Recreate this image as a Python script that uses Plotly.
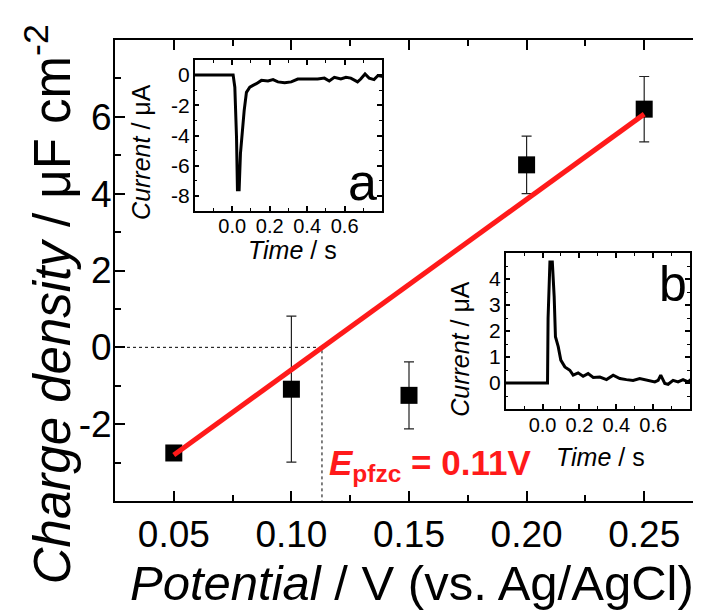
import plotly.graph_objects as go

# ---------------- data ----------------
potential = [0.05, 0.10, 0.15, 0.20, 0.25]
charge = [-2.75, -1.09, -1.25, 4.75, 6.2]
charge_err = [0.0, 1.9, 0.87, 0.75, 0.85]

fit_x = [0.05, 0.25]
fit_y = [-2.8, 6.07]
e_pfzc = 0.113

# inset a (cathodic transient)
time_a = [-0.2, 0.005, 0.014, 0.023, 0.028, 0.037, 0.044, 0.053, 0.064, 0.076, 0.094, 0.111,
          0.129, 0.156, 0.191, 0.218, 0.244, 0.280, 0.315, 0.350, 0.385, 0.421, 0.456, 0.492,
          0.518, 0.545, 0.580, 0.607, 0.633, 0.669, 0.686, 0.709, 0.731, 0.757, 0.778, 0.805]
curr_a = [0.0, 0.0, -0.8, -4.1, -7.6, -7.6, -5.2, -3.65, -2.34, -1.14, -0.8, -0.68,
          -0.57, -0.35, -0.39, -0.3, -0.45, -0.5, -0.45, -0.26, -0.26, -0.3, -0.26, -0.2,
          -0.39, -0.15, -0.26, -0.15, -0.2, -0.45, -0.26, 0.07, -0.2, -0.3, -0.03, -0.1]

# inset b (anodic transient)
time_b = [-0.2, 0.027, 0.030, 0.040, 0.053, 0.063, 0.070, 0.085, 0.099, 0.121, 0.148, 0.166,
          0.193, 0.220, 0.247, 0.275, 0.311, 0.347, 0.383, 0.419, 0.455, 0.491, 0.527, 0.573,
          0.609, 0.627, 0.641, 0.663, 0.681, 0.708, 0.735, 0.762, 0.789, 0.811]
curr_b = [0.0, 0.0, 2.5, 4.65, 4.65, 3.33, 1.78, 1.4, 0.88, 0.62, 0.49, 0.3,
          0.39, 0.26, 0.36, 0.21, 0.23, 0.13, 0.3, 0.17, 0.13, 0.10, 0.17, 0.10,
          0.04, 0.10, 0.30, -0.02, -0.05, 0.10, 0.04, 0.13, 0.04, 0.17]

main_xticks = [0.05, 0.10, 0.15, 0.20, 0.25]
main_yticks = [-2, 0, 2, 4, 6]
inset_xticks = [0.0, 0.2, 0.4, 0.6]
inset_a_yticks = [0, -2, -4, -6, -8]
inset_b_yticks = [0, 1, 2, 3, 4]

FONT = "Liberation Sans, Arial, sans-serif"
W, H = 701, 612
ML, MR, MT, MB = 107, 4, 32, 119
PW, PH = W - ML - MR, H - MT - MB


def px(xp):
    return (xp - ML) / PW


def py(yp):
    return (H - MB - yp) / PH


fig = go.Figure()

# dashed guide lines
fig.add_trace(go.Scatter(x=[0.025, e_pfzc, e_pfzc], y=[0, 0, -4], mode="lines",
                         line=dict(color="black", width=1, dash="3px,3px"),
                         hoverinfo="skip", showlegend=False))
# data points
fig.add_trace(go.Scatter(x=potential, y=charge, mode="markers",
                         marker=dict(symbol="square", size=17, color="black"),
                         error_y=dict(type="data", array=charge_err, color="#222222",
                                      thickness=1.2, width=5),
                         showlegend=False))
# fit line
fig.add_trace(go.Scatter(x=fit_x, y=fit_y, mode="lines",
                         line=dict(color="#ff1a1a", width=5), showlegend=False))

# insets
fig.add_trace(go.Scatter(x=time_a, y=curr_a, mode="lines", xaxis="x2", yaxis="y2",
                         line=dict(color="black", width=3), showlegend=False))
fig.add_trace(go.Scatter(x=time_b, y=curr_b, mode="lines", xaxis="x3", yaxis="y3",
                         line=dict(color="black", width=3), showlegend=False))

axis_common = dict(showline=True, linecolor="black", mirror="ticks", ticks="inside",
                   showgrid=False, zeroline=False, tickcolor="black")


def inset_minor(dt):
    return dict(ticks="inside", dtick=dt, tick0=0, ticklen=3, tickwidth=1, tickcolor="black")


fig.update_layout(
    width=W, height=H,
    margin=dict(l=ML, r=MR, t=MT, b=MB),
    paper_bgcolor="white", plot_bgcolor="white",
    font=dict(family=FONT, color="black"),
    xaxis=dict(**axis_common, range=[0.025, 0.275], linewidth=2, tickwidth=2, ticklen=10,
               tickvals=main_xticks, ticktext=[f"{v:.2f}" for v in main_xticks],
               tickfont=dict(size=37), ticklabelstandoff=0,
               minor=dict(ticks="inside", dtick=0.025, tick0=0.025, ticklen=6,
                          tickwidth=2, tickcolor="black")),
    yaxis=dict(**axis_common, range=[-4, 8], linewidth=2, tickwidth=2, ticklen=10,
               tickvals=main_yticks, ticktext=[str(v) for v in main_yticks],
               tickfont=dict(size=37), ticklabelstandoff=-6,
               minor=dict(ticks="inside", dtick=1, tick0=0, ticklen=6,
                          tickwidth=2, tickcolor="black")),
    xaxis2=dict(**axis_common, domain=[px(187), px(375)], anchor="y2", range=[-0.2, 0.8],
                linewidth=1.5, tickwidth=1.5, ticklen=5,
                tickvals=inset_xticks, ticktext=[f"{v:.1f}" for v in inset_xticks],
                tickfont=dict(size=20), ticklabelstandoff=-4, minor=inset_minor(0.1)),
    yaxis2=dict(**axis_common, domain=[py(203), py(52)], anchor="x2", range=[-9, 1],
                linewidth=1.5, tickwidth=1.5, ticklen=5,
                tickvals=inset_a_yticks, ticktext=[str(v) for v in inset_a_yticks],
                tickfont=dict(size=21), ticklabelstandoff=-1, minor=inset_minor(1)),
    xaxis3=dict(**axis_common, domain=[px(499), px(684)], anchor="y3", range=[-0.2, 0.8],
                linewidth=1.5, tickwidth=1.5, ticklen=5,
                tickvals=inset_xticks, ticktext=[f"{v:.1f}" for v in inset_xticks],
                tickfont=dict(size=20), ticklabelstandoff=-3, minor=inset_minor(0.1)),
    yaxis3=dict(**axis_common, domain=[py(401), py(245)], anchor="x3", range=[-1, 5],
                linewidth=1.5, tickwidth=1.5, ticklen=5,
                tickvals=inset_b_yticks, ticktext=[str(v) for v in inset_b_yticks],
                tickfont=dict(size=21), ticklabelstandoff=-1, minor=inset_minor(0.5)),
)

ann = [
    # main axis titles
    dict(x=px(405), y=py(604), yanchor="bottom",
         text="<i>Potential</i> / V (vs. Ag/AgCl)", font=dict(size=49)),
    dict(x=px(40), y=py(296), text="<i>Charge density</i> / μF cm<sup>-2</sup>",
         font=dict(size=51), textangle=-90),
    # inset a titles
    dict(x=px(285), y=py(241.5), text="<i>Time</i> / s", font=dict(size=25)),
    dict(x=px(133), y=py(144), text="<i>Current</i> / μA", font=dict(size=25), textangle=-90),
    dict(x=px(355), y=py(173.5), text="a", font=dict(size=52)),
    # inset b titles
    dict(x=px(594), y=py(449), text="<i>Time</i> / s", font=dict(size=25)),
    dict(x=px(453), y=py(341), text="<i>Current</i> / μA", font=dict(size=25), textangle=-90),
    dict(x=px(667), y=py(276), text="b", font=dict(size=50)),
    # E_pfzc label
    dict(x=px(320), y=py(457), xanchor="left",
         text="<b><i>E</i><sub>pfzc</sub> = 0.11V</b>",
         font=dict(size=35, color="#ff1a1a")),
]
for a in ann:
    a.setdefault("xref", "paper")
    a.setdefault("yref", "paper")
    a.setdefault("showarrow", False)
    a.setdefault("xanchor", "center")
    a.setdefault("yanchor", "middle")
    fig.add_annotation(**a)

fig.write_html("out.html")
